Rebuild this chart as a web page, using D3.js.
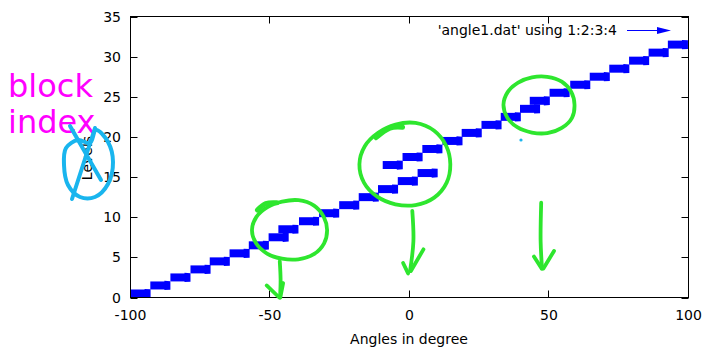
<!DOCTYPE html>
<html>
<head>
<meta charset="utf-8">
<script src="https://cdn.jsdelivr.net/npm/d3@7"></script>
<style>
  html, body { margin: 0; padding: 0; background: #fff; }
  svg { display: block; font-family: "DejaVu Sans", sans-serif; }
</style>
</head>
<body>
<script>
// Vector data from angle1.dat: start angle (col 1), level (col 2), dx (col 3), dy (col 4)
const angleStart = [-100, -92.9, -85.7, -78.5, -71.6, -64.5, -57.6, -50.5,
                    -47.0, -39.6, -32.4, -25.2, -18.2, -11.3, -4.2, 2.9,
                    -9.6, -2.5, 4.6, 11.8, 18.7, 25.8, 32.7, 39.6,
                    43.1, 50.2, 57.6, 64.6, 71.6, 78.7, 85.7, 92.6];
const levelY = [0.5, 1.5, 2.5, 3.5, 4.5, 5.5, 6.5, 7.5,
                8.5, 9.5, 10.5, 11.5, 12.5, 13.5, 14.5, 15.5,
                16.5, 17.5, 18.5, 19.5, 20.5, 21.5, 22.5, 23.5,
                24.5, 25.5, 26.5, 27.5, 28.5, 29.5, 30.5, 31.5];
const arrowDx = 7.2;
const arrowDy = 0;

const xTicks = [-100, -50, 0, 50, 100];
const yTicks = [0, 5, 10, 15, 20, 25, 30, 35];

const W = 702, H = 352;
const plot = { left: 130.5, right: 688.5, top: 16.5, bottom: 297.5 };

const x = d3.scaleLinear().domain([-100, 100]).range([plot.left, plot.right]);
const y = d3.scaleLinear().domain([0, 35]).range([plot.bottom, plot.top]);

const svg = d3.select("body").append("svg")
  .attr("width", W).attr("height", H);
svg.append("rect").attr("width", W).attr("height", H).attr("fill", "#fff");

// ---- vectors (thick arrows) ----
const rows = angleStart.map((a, i) => ({ x0: a, y0: levelY[i], dx: arrowDx, dy: arrowDy }));
const gv = svg.append("g").attr("fill", "#0000ff");
rows.forEach(r => {
  const xa = x(r.x0), xb = x(r.x0 + r.dx);
  const ya = y(r.y0), yb = y(r.y0 + r.dy);
  // shaft
  gv.append("path").attr("d",
    `M${xa},${ya - 4}L${xb - 5},${yb - 4}L${xb - 5},${yb + 4}L${xa},${ya + 4}Z`);
  // head
  gv.append("path").attr("d",
    `M${xb - 6},${yb - 4.6}L${xb},${yb - 4.3}L${xb},${yb + 4.3}L${xb - 6},${yb + 4.6}Z`);
});

// ---- frame and ticks ----
const axisG = svg.append("g").attr("stroke", "#000").attr("stroke-width", 1).attr("fill", "none");
axisG.append("rect")
  .attr("x", plot.left).attr("y", plot.top)
  .attr("width", plot.right - plot.left).attr("height", plot.bottom - plot.top);
const tl = 7;
yTicks.forEach(v => {
  const yy = Math.round(y(v)) + 0.5;
  axisG.append("line").attr("x1", plot.left).attr("x2", plot.left + tl).attr("y1", yy).attr("y2", yy);
  axisG.append("line").attr("x1", plot.right).attr("x2", plot.right - tl).attr("y1", yy).attr("y2", yy);
});
xTicks.forEach(v => {
  const xx = Math.round(x(v)) - 0.5;
  axisG.append("line").attr("x1", xx).attr("x2", xx).attr("y1", plot.bottom).attr("y2", plot.bottom - tl);
  axisG.append("line").attr("x1", xx).attr("x2", xx).attr("y1", plot.top).attr("y2", plot.top + tl);
});

const txt = svg.append("g").attr("fill", "#000").attr("font-size", 14);
yTicks.forEach(v => {
  txt.append("text").attr("x", 121).attr("y", y(v)).attr("dy", "0.36em")
    .attr("text-anchor", "end").text(v);
});
xTicks.forEach(v => {
  txt.append("text").attr("x", x(v)).attr("y", 320)
    .attr("text-anchor", "middle").text(v);
});
txt.append("text").attr("x", 409).attr("y", 344).attr("text-anchor", "middle").text("Angles in degree");
txt.append("text").attr("transform", "translate(92,158) rotate(-90)")
  .attr("text-anchor", "middle").text("Levels");

// ---- key ----
txt.append("text").attr("x", 617).attr("y", 35).attr("text-anchor", "end")
  .text("'angle1.dat' using 1:2:3:4");
svg.append("line").attr("x1", 627).attr("x2", 662).attr("y1", 30.5).attr("y2", 30.5)
  .attr("stroke", "#0000ff").attr("stroke-width", 1);
svg.append("path").attr("d", "M657,27L671,30.5L657,34Z").attr("fill", "#0000ff");

// ---- hand-drawn notes ----
svg.append("text").attr("x", 8).attr("y", 97).attr("font-size", 32).attr("fill", "#ff00ff").text("block");
svg.append("text").attr("x", 8).attr("y", 133).attr("font-size", 32).attr("fill", "#ff00ff").text("index");

const pen = d3.line().curve(d3.curveCatmullRom.alpha(0.5));
const penClosed = d3.line().curve(d3.curveCatmullRomClosed.alpha(0.5));

// loop in data coordinates around a group of vectors
function loop(cx, cy, rx, ry, wobble) {
  const pts = [];
  const n = 14;
  for (let k = 0; k < n; k++) {
    const t = (k / n) * 2 * Math.PI;
    const w = 1 + (wobble[k % wobble.length] || 0);
    pts.push([x(cx) + Math.cos(t) * rx * w, y(cy) + Math.sin(t) * ry * w]);
  }
  return pts;
}

const green = svg.append("g").attr("fill", "none").attr("stroke", "#2ee62e")
  .attr("stroke-width", 3.8).attr("stroke-linecap", "round").attr("stroke-linejoin", "round");

// loop near -45 deg
green.append("path").attr("d", penClosed(loop(-42.8, 8.4, 37, 30, [0, 0.02, 0.03, 0.0, -0.02, 0, 0.02, 0.03, 0.01, -0.02, -0.03, 0.02, 0.04, 0.01])));
green.append("path").attr("d", pen([[x(-54.5), y(10.9)], [x(-51.5), y(11.7)], [x(-47.5), y(11.8)]])).attr("stroke-width", 5);
green.append("path").attr("d", pen([[x(-46.5), y(4.5)], [x(-46.2), y(2.2)], [x(-46.4), y(0)]]));
green.append("path").attr("d", `M${x(-51.2)},${y(1.5)}L${x(-46.7)},${y(0)}`);
green.append("path").attr("d", `M${x(-45.3)},${y(1.8)}L${x(-46.3)},${y(0)}`);

// loop near 0 deg
green.append("path").attr("d", penClosed(loop(-1.5, 16.6, 45, 41.5, [0, 0.02, 0.03, 0.01, -0.01, 0, 0.02, 0.02, 0.0, -0.03, -0.02, 0.02, 0.03, 0.01])));
green.append("path").attr("d", pen([[x(-12), y(19.9)], [x(-7), y(21.1)], [x(-2.5), y(21.2)]])).attr("stroke-width", 5);
green.append("path").attr("d", pen([[x(1.0), y(10.8)], [x(1.4), y(7)], [x(0.2), y(3.3)]]));
green.append("path").attr("d", `M${x(5.0)},${y(6.0)}L${x(0.5)},${y(3.3)}`);
green.append("path").attr("d", `M${x(-2.3)},${y(4.3)}L${x(-0.5)},${y(3.0)}`);

// loop near 45 deg
green.append("path").attr("d", penClosed(loop(46.6, 24.0, 35, 29, [0, 0.03, 0.02, 0.0, -0.02, 0, 0.02, 0.03, 0.01, -0.02, -0.03, -0.01, 0.02, 0.01])));
green.append("path").attr("d", pen([[x(47.2), y(11.8)], [x(47.0), y(7)], [x(47.5), y(3.6)]]));
green.append("path").attr("d", `M${x(44.6)},${y(5.1)}L${x(47.4)},${y(3.6)}`);
green.append("path").attr("d", `M${x(51.8)},${y(5.8)}L${x(48.0)},${y(3.6)}`);

// strike-through over the y label
const cyan = svg.append("g").attr("fill", "none").attr("stroke", "#19b5ee")
  .attr("stroke-width", 4).attr("stroke-linecap", "round");
cyan.append("path").attr("d", penClosed([[96, 130], [108, 142], [113, 162], [108, 184], [95, 197], [80, 197], [68, 185], [64, 165], [66, 148], [78, 140], [90, 143]]));
cyan.append("path").attr("d", `M70,126L101,180`);
cyan.append("path").attr("d", `M95,128L72,199`);
svg.append("circle").attr("cx", 521).attr("cy", 140).attr("r", 1.6).attr("fill", "#19b5ee");
</script>
</body>
</html>
